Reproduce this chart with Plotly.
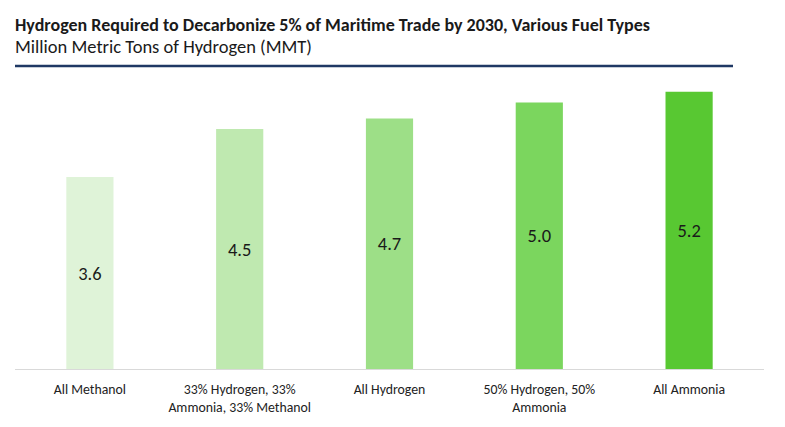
import plotly.graph_objects as go

categories = ["All Methanol", "33% Hydrogen, 33%<br>Ammonia, 33% Methanol", "All Hydrogen",
              "50% Hydrogen, 50%<br>Ammonia", "All Ammonia"]
values = [3.6, 4.5, 4.7, 5.0, 5.2]
labels = ["3.6", "4.5", "4.7", "5.0", "5.2"]
colors = ["#dff3d8", "#bfe9b0", "#9ddf87", "#7bd65e", "#58c832"]

title_text = "Hydrogen Required to Decarbonize 5% of Maritime Trade by 2030, Various Fuel Types"
subtitle_text = "Million Metric Tons of Hydrogen (MMT)"

FONT = "Carlito, Lato"
PLOT_TOP, PLOT_BOTTOM = 80, 369
PH = PLOT_BOTTOM - PLOT_TOP


def py(pix):
    return (PLOT_BOTTOM - pix) / PH


fig = go.Figure(go.Bar(
    x=categories, y=values, text=labels,
    marker=dict(color=colors, line=dict(width=0)),
    width=0.315,
    textposition="inside", insidetextanchor="middle",
    textfont=dict(size=18.5, color="#1a1a1a", family=FONT),
    hoverinfo="skip",
))

fig.update_layout(
    width=785, height=427,
    margin=dict(l=15, r=21, t=PLOT_TOP, b=427 - PLOT_BOTTOM),
    paper_bgcolor="white", plot_bgcolor="white",
    showlegend=False,
    font=dict(family=FONT, color="#222222"),
    xaxis=dict(showline=True, linecolor="#d9d9d9", linewidth=1, ticks="",
               ticklabelstandoff=7,
               tickfont=dict(size=13.8, color="#222222", family=FONT), fixedrange=True),
    yaxis=dict(range=[0, 5.42], visible=False, showgrid=False, zeroline=False, fixedrange=True),
    annotations=[
        dict(text="<b>" + title_text + "</b>", xref="paper", yref="paper",
             x=0, xshift=-1, y=py(24.5), xanchor="left", yanchor="middle", showarrow=False,
             borderpad=0, font=dict(size=18, color="#1a1a1a", family=FONT)),
        dict(text=subtitle_text, xref="paper", yref="paper",
             x=0, xshift=-1, y=py(46.5), xanchor="left", yanchor="middle", showarrow=False,
             borderpad=0, font=dict(size=18.5, color="#1a1a1a", family=FONT)),
    ],
    shapes=[dict(type="line", xref="paper", yref="paper",
                 x0=0, x1=(733 - 15) / 749, y0=py(66), y1=py(66),
                 line=dict(color="#1f3864", width=2.5))],
)

fig.write_html("out.html", post_script="document.body.style.margin='0';",
               config={"displayModeBar": False})
